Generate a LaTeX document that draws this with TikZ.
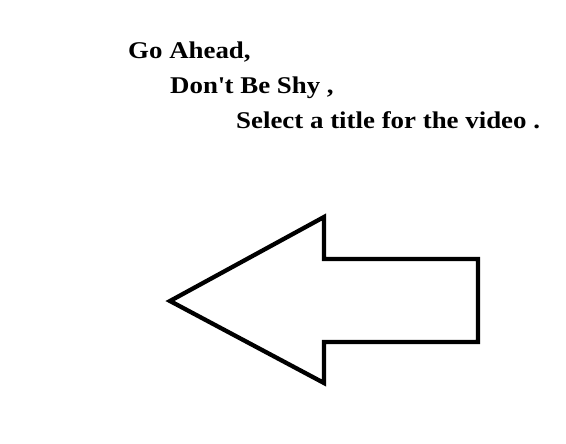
\documentclass[tikz,border=0pt]{standalone}
\usepackage{fontspec}
\setmainfont{Liberation Serif}
\newfontfamily\captionfont[FakeStretch=1.12]{Liberation Serif}

\begin{document}
\begin{tikzpicture}[x=1pt, y=-1pt,
    caption/.style={anchor=base west, inner sep=0pt, font=\captionfont\fontsize{24}{28}\selectfont\bfseries}]

    \useasboundingbox (0, 0) rectangle (566, 444);

    % Text lines
    \node[caption] (line1) at (128, 59) {Go Ahead,};
    \node[caption] (line2) at (170, 94) {Don\textquotesingle t Be Shy ,};
    \node[caption] (line3) at (236, 129) {Select a title for the video .};

    % Arrow pointing left
    \coordinate (tip) at (170, 301);
    \coordinate (headtop) at (324, 217);
    \coordinate (shafttl) at (324, 259);
    \coordinate (shafttr) at (478, 259);
    \coordinate (shaftbr) at (478, 342);
    \coordinate (shaftbl) at (324, 342);
    \coordinate (headbot) at (324, 383);

    \draw[line width=4.3pt, line join=miter] (tip) -- (headtop) -- (shafttl) -- (shafttr) -- (shaftbr) -- (shaftbl) -- (headbot) -- cycle;

\end{tikzpicture}
\end{document}
